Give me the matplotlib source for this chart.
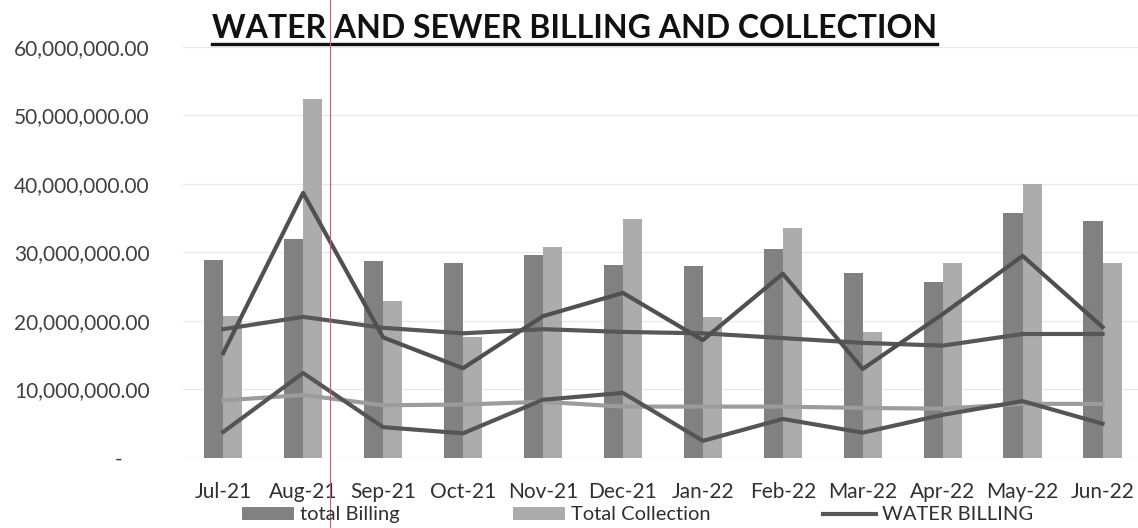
import matplotlib
matplotlib.use("Agg")
from matplotlib import pyplot as plt
from matplotlib.lines import Line2D
import numpy as np

months = ["Jul-21", "Aug-21", "Sep-21", "Oct-21", "Nov-21", "Dec-21",
          "Jan-22", "Feb-22", "Mar-22", "Apr-22", "May-22", "Jun-22"]

# values (pesos)
total_billing = [28.9e6, 32.0e6, 28.8e6, 28.5e6, 29.6e6, 28.2e6,
                 28.0e6, 30.5e6, 27.0e6, 25.7e6, 35.8e6, 34.6e6]
total_collection = [20.7e6, 52.4e6, 22.9e6, 17.7e6, 30.8e6, 34.9e6,
                    20.6e6, 33.6e6, 18.4e6, 28.5e6, 40.0e6, 28.5e6]
water_billing = [18.8e6, 20.6e6, 19.0e6, 18.2e6, 18.8e6, 18.4e6,
                 18.2e6, 17.5e6, 16.8e6, 16.4e6, 18.1e6, 18.1e6]
sewer_billing = [8.4e6, 9.2e6, 7.7e6, 7.8e6, 8.2e6, 7.5e6,
                 7.5e6, 7.5e6, 7.3e6, 7.2e6, 7.9e6, 7.9e6]
water_collection = [15.3e6, 38.7e6, 17.6e6, 13.1e6, 20.7e6, 24.1e6,
                    17.2e6, 26.9e6, 13.0e6, 21.0e6, 29.5e6, 19.1e6]
sewer_collection = [3.8e6, 12.4e6, 4.5e6, 3.6e6, 8.5e6, 9.5e6,
                    2.5e6, 5.7e6, 3.7e6, 6.3e6, 8.3e6, 5.0e6]

plt.rcParams['font.family'] = ['Lato', 'DejaVu Sans']

fig = plt.figure(figsize=(11.38, 5.28), dpi=100)
ax = fig.add_axes([0.161, 0.1326, 0.843, 0.7785])

x = np.arange(len(months))
w = 0.24
b1 = ax.bar(x - w / 2, total_billing, w, color='#818181', label='total Billing', zorder=2)
b2 = ax.bar(x + w / 2, total_collection, w, color='#acacac', label='Total Collection', zorder=2)

l1, = ax.plot(x, water_billing, color='#575757', lw=3, label='WATER BILLING', zorder=3)
ax.plot(x, sewer_billing, color='#9c9c9c', lw=3, zorder=3)
ax.plot(x, water_collection, color='#505050', lw=3, zorder=3)
ax.plot(x, sewer_collection, color='#555555', lw=3, zorder=3)

ax.set_xlim(-0.5, len(months) - 0.5)
ax.set_ylim(0, 60e6)
ax.set_yticks(np.arange(0, 60e6 + 1, 10e6))
ax.yaxis.set_major_formatter(matplotlib.ticker.FuncFormatter(
    lambda v, p: "-     " if v == 0 else f"{v:,.2f}"))
ax.set_xticks(x)
ax.set_xticklabels(months)
ax.tick_params(axis='y', length=0, pad=24, labelsize=15, labelcolor='#404040')
ax.tick_params(axis='x', length=0, pad=17, labelsize=15, labelcolor='#303030')
ax.grid(axis='y', color='#e8e8e8', lw=0.9, zorder=0)
for s in ax.spines.values():
    s.set_visible(False)
ax.axhline(0, color='#e0e0e0', lw=0.9, zorder=1)

fig.legend([b1, b2, l1], ['total Billing', 'Total Collection', 'WATER BILLING'],
           loc='center', bbox_to_anchor=(0.56, 0.025), ncol=3, frameon=False,
           fontsize=14.5, handlelength=2.6, handleheight=0.6, columnspacing=5.6,
           handletextpad=0.3, labelcolor='#303030')

title = fig.text(0.505, 0.919, "WATER AND SEWER BILLING AND COLLECTION",
                 ha='center', va='bottom', fontsize=23, fontweight='bold', color='#111111')
fig.canvas.draw()
bb = title.get_window_extent().transformed(fig.transFigure.inverted())
fig.add_artist(Line2D([bb.x0, bb.x1], [bb.y0 - 0.002, bb.y0 - 0.002],
                      color='#111111', lw=2.4, transform=fig.transFigure))

# thin red scan mark
fig.add_artist(Line2D([0.29, 0.29], [0, 1], color='#c06070', lw=0.8,
                      transform=fig.transFigure))

fig.savefig("out.png", dpi=100)
